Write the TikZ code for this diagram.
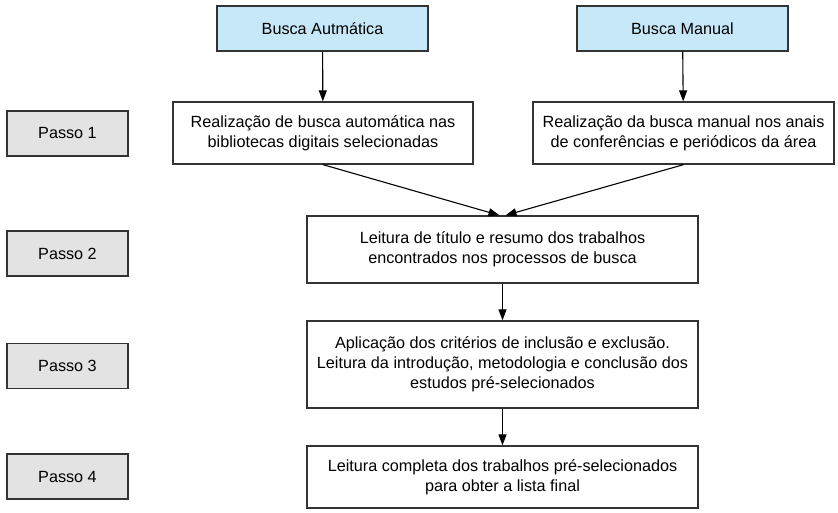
\documentclass[tikz,border=0pt]{standalone}
\usepackage{fontspec}
\setmainfont{Liberation Sans}
\usepackage{tikz}
\definecolor{fonte}{RGB}{199,232,248}
\definecolor{passo}{RGB}{227,227,227}
\definecolor{borda}{RGB}{51,51,51}
\usetikzlibrary{arrows.meta}

\tikzset{
  caixa/.style={draw=borda, line width=1.3pt, fill=white, align=center, inner sep=0pt,
    font=\fontsize{16.2pt}{20pt}\selectfont},
  origem/.style={caixa, fill=fonte, minimum width=211pt, minimum height=45pt},
  etapa/.style={caixa, fill=passo, minimum width=121pt, minimum height=45pt},
  seta/.style={-{Triangle[length=11pt,width=8pt]}, line width=1.1pt}
}

\begin{document}
\begin{tikzpicture}[x=1pt, y=-1pt]
\useasboundingbox (0,0) rectangle (838,512);

\node[origem] (auto) at (322.5,28.5) {Busca Autmática};
\node[origem] (manual) at (682.5,28.5) {Busca Manual};

\node[etapa] (p1) at (67.5,133.5) {Passo 1};
\node[etapa] (p2) at (67.5,253.5) {Passo 2};
\node[etapa] (p3) at (67.5,366) {Passo 3};
\node[etapa] (p4) at (67.5,476.5) {Passo 4};

\node[caixa, minimum width=300pt, minimum height=62pt] (b1) at (323,133)
  {Realização de busca automática nas\\bibliotecas digitais selecionadas};
\node[caixa, minimum width=301pt, minimum height=62pt] (b2) at (683.5,133)
  {Realização da busca manual nos anais\\de conferências e periódicos da área};
\node[caixa, minimum width=391pt, minimum height=67pt] (b3) at (502.5,249.5)
  {Leitura de título e resumo dos trabalhos\\encontrados nos processos de busca};
\node[caixa, minimum width=391pt, minimum height=87pt] (b4) at (502.5,364.5)
  {Aplicação dos critérios de inclusão e exclusão.\\Leitura da introdução, metodologia e conclusão dos\\estudos pré-selecionados};
\node[caixa, minimum width=391pt, minimum height=62pt] (b5) at (502.5,477)
  {Leitura completa dos trabalhos pré-selecionados\\para obter a lista final};

\coordinate (e1) at ([xshift=-3pt]b3.north);
\coordinate (e2) at ([xshift=3pt]b3.north);

\draw[seta] (auto) -- (b1);
\draw[seta] (manual) -- (b2);
\draw[seta] (b1.south) -- (e1);
\draw[seta] (b2.south) -- (e2);
\draw[seta] (b3) -- (b4);
\draw[seta] (b4) -- (b5);
\end{tikzpicture}
\end{document}
